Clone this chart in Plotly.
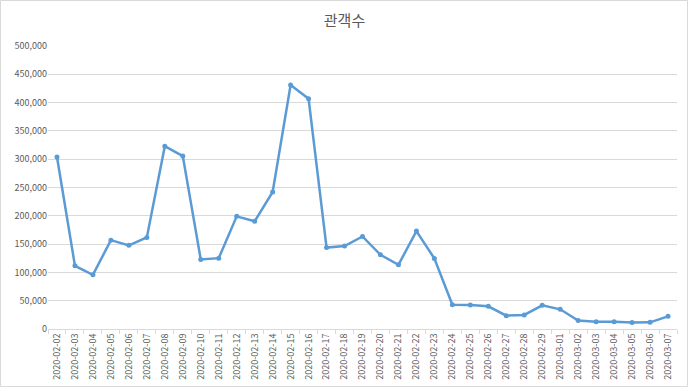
import plotly.graph_objects as go

dates = ["2020-02-02","2020-02-03","2020-02-04","2020-02-05","2020-02-06","2020-02-07",
         "2020-02-08","2020-02-09","2020-02-10","2020-02-11","2020-02-12","2020-02-13",
         "2020-02-14","2020-02-15","2020-02-16","2020-02-17","2020-02-18","2020-02-19",
         "2020-02-20","2020-02-21","2020-02-22","2020-02-23","2020-02-24","2020-02-25",
         "2020-02-26","2020-02-27","2020-02-28","2020-02-29","2020-03-01","2020-03-02",
         "2020-03-03","2020-03-04","2020-03-05","2020-03-06","2020-03-07"]
audience = [304000, 111600, 95800, 157000, 147800, 161800,
            322900, 305500, 122800, 125200, 199000, 190500,
            242000, 431000, 406800, 143800, 146600, 163500,
            131000, 113400, 173000, 124600, 42800, 42500,
            40100, 23600, 24800, 41900, 34800, 14800,
            13000, 13000, 11400, 11800, 22400]
y_ticks = [0, 50000, 100000, 150000, 200000, 250000, 300000, 350000, 400000, 450000, 500000]

W, H = 689, 391
ml, mr, mt, mb = 48, 12, 46, 62

fig = go.Figure()
fig.add_trace(go.Scatter(
    x=dates, y=audience, mode="lines+markers",
    line=dict(color="#5B9BD5", width=2.5),
    marker=dict(color="#5B9BD5", size=5),
    hoverinfo="x+y",
))

fig.update_layout(
    width=W, height=H,
    margin=dict(l=ml, r=mr, t=mt, b=mb, autoexpand=False),
    paper_bgcolor="white", plot_bgcolor="white",
    showlegend=False,
    title=dict(text="관객수", x=0.5, xanchor="center", y=1 - 21 / H, yanchor="middle",
               font=dict(family="Noto Sans CJK KR", size=15, color="#595959")),
    font=dict(family="Noto Sans CJK KR, DejaVu Sans", size=9, color="#595959"),
    xaxis=dict(type="category", range=[-0.5, len(dates) - 0.5], autorange=False,
               showgrid=False, showline=True, linecolor="#D9D9D9",
               linewidth=1, ticks="outside", tickson="boundaries", ticklen=4,
               tickcolor="#D9D9D9", tickangle=-90, tickfont=dict(size=9, color="#595959"),
               fixedrange=True),
    yaxis=dict(range=[0, 500000], tickvals=y_ticks, tickformat=",", showgrid=True,
               gridcolor="#D9D9D9", gridwidth=1, zeroline=False, showline=False,
               ticks="", tickfont=dict(size=9, color="#595959"), fixedrange=True),
    shapes=[dict(type="rect", xref="paper", yref="paper",
                 x0=-(ml - 0.5) / (W - ml - mr), x1=1 + (mr - 1.5) / (W - ml - mr),
                 y0=-(mb - 4.5) / (H - mt - mb), y1=1 + (mt - 0.5) / (H - mt - mb),
                 line=dict(color="#D9D9D9", width=1), layer="below")],
)

fig.write_html("out.html", config={"displayModeBar": False},
               post_script="document.body.style.margin='0';document.body.style.overflow='hidden';")
